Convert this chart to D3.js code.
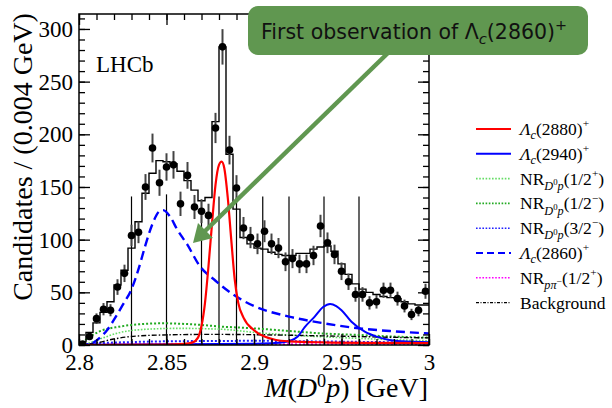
<!DOCTYPE html>
<html>
<head>
<meta charset="utf-8">
<script src="https://cdn.jsdelivr.net/npm/d3@7/dist/d3.min.js"></script>
<style>
  body { margin: 0; background: #fff; }
  svg { display: block; }
</style>
</head>
<body>
<svg id="chart"></svg>
<script>
var width = 612, height = 408;
var plot = {left: 79, right: 429, top: 14, bottom: 345};
var serif = "'Liberation Serif', 'Times New Roman', serif";

// histogram binning
var binStart = 2.8, binWidth = 0.004;

// data points (candidates per bin)
var dataCounts = [1, 8, 25, 34, 33, 55, 68, 104, 107, 150, 187, 154, 169, 171, 134,
  161, 131, 127, 123, 206, 283, 185, 149, 111, 102, 96, 108, 96, 92, 79,
  82, 77, 77, 85, 113, 97, 86, 70, 60, 48, 48, 40, 41, 52, 52, 44, 37, 29, 33, 51];

// total fit, per bin (step histogram)
var fitTotal = [3, 12, 21, 31, 41, 57, 71, 92, 117, 144, 163, 175, 174, 172, 165,
  156, 147, 137, 140, 212, 283, 181, 129, 102, 96, 92, 91, 88, 86, 85,
  85, 87, 87, 91, 93, 94, 89, 77, 67, 58, 53, 50, 48, 46, 45, 44, 41, 39, 38, 38];

// fit components [mass, candidates]
var lc2880 = [[2.80,0],[2.85,0.3],[2.86,1],[2.865,2.5],[2.868,7],[2.870,18],[2.872,40],[2.874,75],
  [2.876,115],[2.878,152],[2.880,171],[2.8815,174],[2.883,168],[2.885,140],[2.887,100],[2.889,62],
  [2.891,40],[2.894,26],[2.900,14],[2.906,8],[2.912,5],[2.92,3.5],[2.94,2.5],[2.97,2],[3.0,1.8]];
var lc2940 = [[2.80,0.3],[2.86,0.6],[2.90,1.2],[2.912,1.8],[2.92,3.5],[2.925,8],[2.929,17],[2.9347,27],
  [2.9395,36],[2.9435,39],[2.947,37],[2.95,33],[2.9557,22],[2.9633,12.7],[2.97,8],[2.9767,5],
  [2.985,3.5],[2.9916,3],[3.0,2.6]];
var lc2860 = [[2.800,0],[2.805,0.5],[2.808,2],[2.812,7],[2.816,14],[2.820,24],[2.825,38],[2.830,53],
  [2.834,72],[2.838,95],[2.842,115],[2.846,127],[2.848,128],[2.852,122],[2.856,110],[2.862,95],
  [2.869,75],[2.878,61],[2.888,48],[2.900,37],[2.92,27],[2.94,20.6],[2.96,15.8],[2.98,13],[3.0,11]];
var nrHalfPlus = [[2.80,0],[2.805,1.5],[2.8115,5.4],[2.823,11.7],[2.838,14.9],[2.857,15.8],[2.882,14.9],
  [2.90,12],[2.92,9.5],[2.95,7],[2.98,5],[3.0,4]];
var nrHalfMinus = [[2.80,0],[2.803,4],[2.8115,12.7],[2.823,17.4],[2.834,19.6],[2.8477,20.6],[2.865,19.6],
  [2.882,17.4],[2.90,15.8],[2.92,13.3],[2.9385,11],[2.96,9.5],[2.98,8],[3.0,7]];
var nrThreeHalfMinus = [[2.80,0],[2.81,1.5],[2.83,2.8],[2.85,3.5],[2.88,3.8],[2.90,4],[2.93,3.5],[2.96,3],[3.0,2.2]];
var nrPPi = [[2.80,0.6],[2.90,0.8],[3.0,0.8]];
var background = [[2.80,0],[2.81,2],[2.819,5.4],[2.8287,7.9],[2.8477,9.5],[2.8764,10.1],[2.90,9.8],
  [2.9385,8.7],[2.96,8],[2.99,7],[3.0,6.8]];

// stray vertical lines in the original figure
var spikeMasses = [2.83, 2.85, 2.87, 2.88, 2.89, 2.905, 2.92, 2.94, 2.96];
var spikeTops = [141, 143, 138, 141, 141, 141, 141, 141, 141];

// ticks
var xMajor = [2.8, 2.85, 2.9, 2.95, 3.0];
var xMajorLabels = ["2.8", "2.85", "2.9", "2.95", "3"];
var yMajor = [0, 50, 100, 150, 200, 250, 300];

var svg = d3.select('#chart').attr('width', width).attr('height', height);

var x = d3.scaleLinear().domain([2.8, 3.0]).range([plot.left, plot.right]);
var y = d3.scaleLinear().domain([0, 314.2]).range([plot.bottom, plot.top]);

svg.append('clipPath').attr('id', 'clip')
  .append('rect')
    .attr('x', plot.left).attr('y', plot.top)
    .attr('width', plot.right - plot.left).attr('height', plot.bottom - plot.top);

var g = svg.append('g').attr('clip-path', 'url(#clip)');

// vertical lines
g.selectAll('line.spike')
  .data(spikeMasses)
  .enter().append('line')
    .attr('class', 'spike')
    .attr('x1', function(d) {return x(d)})
    .attr('x2', function(d) {return x(d)})
    .attr('y1', y(0))
    .attr('y2', function(d, i) {return y(spikeTops[i])})
    .attr('stroke', '#000')
    .attr('stroke-width', 1.2);

// components
var curve = d3.line()
  .x(function(d) {return x(d[0])})
  .y(function(d) {return y(d[1])})
  .curve(d3.curveMonotoneX);

var components = [
  {pts: nrPPi, color: '#ff00ff', width: 2, dash: '2,2'},
  {pts: nrThreeHalfMinus, color: '#2020ff', width: 2, dash: '2,2'},
  {pts: nrHalfPlus, color: '#66dd66', width: 1.6, dash: '1.6,1.6'},
  {pts: nrHalfMinus, color: '#22aa22', width: 2, dash: '2,2'},
  {pts: background, color: '#000', width: 1.4, dash: '5,2,1.5,2'},
  {pts: lc2940, color: '#0000ff', width: 2},
  {pts: lc2860, color: '#0000ff', width: 2.4, dash: '9,5'},
  {pts: lc2880, color: '#ff0000', width: 2.2}
];

g.selectAll('path.comp')
  .data(components)
  .enter().append('path')
    .attr('class', 'comp')
    .attr('d', function(d) {return curve(d.pts)})
    .attr('fill', 'none')
    .attr('stroke', function(d) {return d.color})
    .attr('stroke-width', function(d) {return d.width})
    .attr('stroke-dasharray', function(d) {return d.dash || null});

// total fit histogram
var steps = fitTotal.map(function(v, i) {return [binStart + i * binWidth, v]});
steps.push([binStart + fitTotal.length * binWidth, fitTotal[fitTotal.length - 1]]);
g.append('path')
  .attr('d', d3.line()
    .x(function(d) {return x(d[0])})
    .y(function(d) {return y(d[1])})
    .curve(d3.curveStepAfter)(steps))
  .attr('fill', 'none')
  .attr('stroke', '#000')
  .attr('stroke-width', 1.4);

// data points
var points = g.selectAll('g.pt')
  .data(dataCounts)
  .enter().append('g')
    .attr('class', 'pt');

points.append('line')
  .attr('x1', function(d, i) {return x(binStart + (i + 0.5) * binWidth)})
  .attr('x2', function(d, i) {return x(binStart + (i + 0.5) * binWidth)})
  .attr('y1', function(d) {return y(d - Math.sqrt(d))})
  .attr('y2', function(d) {return y(d + Math.sqrt(d))})
  .attr('stroke', '#444')
  .attr('stroke-width', 2);

points.append('circle')
  .attr('cx', function(d, i) {return x(binStart + (i + 0.5) * binWidth)})
  .attr('cy', function(d) {return y(d)})
  .attr('r', 3.8)
  .attr('fill', '#000');

// axes, ROOT style ticks inside on all sides
var xMinor = d3.range(2.8, 3.0001, 0.01);
var yMinor = d3.range(0, 314, 10);

function styleAxis(sel) {
  sel.select('.domain').remove();
  sel.selectAll('line').attr('stroke', '#000').attr('stroke-width', 1.3);
  sel.selectAll('text').style('font-family', serif).style('font-size', '23px').attr('fill', '#000');
}

svg.append('g').attr('transform', 'translate(0,' + plot.bottom + ')')
  .call(d3.axisBottom(x).tickValues(xMinor).tickSize(-6).tickFormat('')).call(styleAxis);
svg.append('g').attr('transform', 'translate(0,' + plot.bottom + ')')
  .call(d3.axisBottom(x).tickValues(xMajor).tickSize(-11).tickPadding(9)
    .tickFormat(function(d, i) {return xMajorLabels[i]})).call(styleAxis);
svg.append('g').attr('transform', 'translate(0,' + plot.top + ')')
  .call(d3.axisTop(x).tickValues(xMinor).tickSize(-6).tickFormat('')).call(styleAxis);
svg.append('g').attr('transform', 'translate(0,' + plot.top + ')')
  .call(d3.axisTop(x).tickValues(xMajor).tickSize(-11).tickFormat('')).call(styleAxis);

svg.append('g').attr('transform', 'translate(' + plot.left + ',0)')
  .call(d3.axisLeft(y).tickValues(yMinor).tickSize(-6).tickFormat('')).call(styleAxis);
svg.append('g').attr('transform', 'translate(' + plot.left + ',0)')
  .call(d3.axisLeft(y).tickValues(yMajor).tickSize(-11).tickPadding(6)).call(styleAxis);
svg.append('g').attr('transform', 'translate(' + plot.right + ',0)')
  .call(d3.axisRight(y).tickValues(yMinor).tickSize(-6).tickFormat('')).call(styleAxis);
svg.append('g').attr('transform', 'translate(' + plot.right + ',0)')
  .call(d3.axisRight(y).tickValues(yMajor).tickSize(-11).tickFormat('')).call(styleAxis);

svg.append('rect')
  .attr('x', plot.left).attr('y', plot.top)
  .attr('width', plot.right - plot.left).attr('height', plot.bottom - plot.top)
  .attr('fill', 'none').attr('stroke', '#000').attr('stroke-width', 1.5);

// rich text helper: parts are [text, shift(em, + down), scale, italic]
function rich(sel, parts, size) {
  var cur = 0;
  parts.forEach(function(p) {
    var shift = p[1] || 0, scale = p[2] || 1;
    sel.append('tspan')
      .attr('dy', ((shift - cur) * size) + 'px')
      .style('font-size', (size * scale) + 'px')
      .style('font-style', p[3] ? 'italic' : 'normal')
      .text(p[0]);
    cur = shift;
  });
  return sel;
}

// axis titles
svg.append('text')
  .attr('transform', 'translate(32,157) rotate(-90)')
  .attr('text-anchor', 'middle')
  .style('font-family', serif).style('font-size', '28px')
  .text('Candidates / (0.004 GeV)');

var xTitle = svg.append('text')
  .attr('x', 428).attr('y', 397)
  .attr('text-anchor', 'end')
  .style('font-family', serif).style('font-size', '28px');
rich(xTitle, [['M', 0, 1, 1], ['(', 0, 1], ['D', 0, 1, 1], ['0', -0.35, 0.65], ['p', 0, 1, 1], [')', 0, 1], [' [GeV]', 0, 1]], 28);

svg.append('text')
  .attr('x', 96).attr('y', 72)
  .style('font-family', serif).style('font-size', '23px')
  .text('LHCb');

// legend
var legendItems = [
  {color: '#ff0000', width: 2, dash: null,
   label: [['Λ', 0, 1, 1], ['c', 0.25, 0.7, 1], ['(2880)', 0, 1], ['+', -0.45, 0.65]]},
  {color: '#0000ff', width: 2, dash: null,
   label: [['Λ', 0, 1, 1], ['c', 0.25, 0.7, 1], ['(2940)', 0, 1], ['+', -0.45, 0.65]]},
  {color: '#66dd66', width: 1.6, dash: '1.6,1.6',
   label: [['NR', 0, 1], ['D', 0.3, 0.7, 1], ['0', 0.02, 0.5], ['p', 0.3, 0.7, 1], ['(1/2', 0, 1], ['+', -0.45, 0.65], [')', 0, 1]]},
  {color: '#22aa22', width: 1.6, dash: '1.6,1.6',
   label: [['NR', 0, 1], ['D', 0.3, 0.7, 1], ['0', 0.02, 0.5], ['p', 0.3, 0.7, 1], ['(1/2', 0, 1], ['−', -0.45, 0.65], [')', 0, 1]]},
  {color: '#2020ff', width: 1.6, dash: '1.6,1.6',
   label: [['NR', 0, 1], ['D', 0.3, 0.7, 1], ['0', 0.02, 0.5], ['p', 0.3, 0.7, 1], ['(3/2', 0, 1], ['−', -0.45, 0.65], [')', 0, 1]]},
  {color: '#0000ff', width: 2, dash: '7,4',
   label: [['Λ', 0, 1, 1], ['c', 0.25, 0.7, 1], ['(2860)', 0, 1], ['+', -0.45, 0.65]]},
  {color: '#ff00ff', width: 1.6, dash: '1.6,1.6',
   label: [['NR', 0, 1], ['pπ', 0.3, 0.7, 1], ['−', 0.05, 0.55], ['(1/2', 0, 1], ['+', -0.45, 0.65], [')', 0, 1]]},
  {color: '#000', width: 1.2, dash: '3,1.5,1,1.5',
   label: [['Background', 0, 1]]}
];

var legend = svg.selectAll('g.leg')
  .data(legendItems)
  .enter().append('g')
    .attr('class', 'leg')
    .attr('transform', function(d, i) {return 'translate(476,' + (129 + i * 24.8) + ')'});

legend.append('line')
  .attr('x1', 0).attr('x2', 35)
  .attr('stroke', function(d) {return d.color})
  .attr('stroke-width', function(d) {return d.width})
  .attr('stroke-dasharray', function(d) {return d.dash});

legend.append('text')
  .attr('x', 44).attr('y', 6)
  .style('font-family', serif).style('font-size', '17.5px')
  .each(function(d) {rich(d3.select(this), d.label, 17.5)});

// annotation
var green = '#609750';
svg.append('line')
  .attr('x1', 391).attr('y1', 50)
  .attr('x2', 203).attr('y2', 233)
  .attr('stroke', green).attr('stroke-width', 4.5);
svg.append('path')
  .attr('d', 'M193,243 L198,223 L213,238 Z')
  .attr('fill', green);

svg.append('rect')
  .attr('x', 248).attr('y', 6)
  .attr('width', 340).attr('height', 49)
  .attr('rx', 10)
  .attr('fill', green);

var note = svg.append('text')
  .attr('x', 261).attr('y', 39)
  .style('font-family', "'DejaVu Sans', sans-serif").style('font-size', '20.5px')
  .attr('fill', '#111');
rich(note, [['First observation of Λ', 0, 1], ['c', 0.25, 0.72, 1], ['(2860)', 0, 1], ['+', -0.45, 0.7]], 20.5);
</script>
</body>
</html>
